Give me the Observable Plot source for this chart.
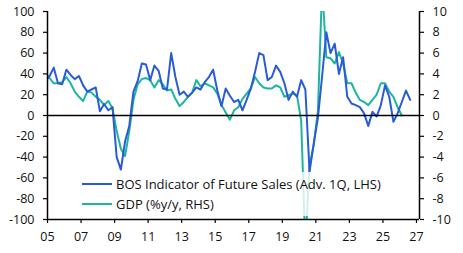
<!DOCTYPE html>
<html>
<head>
<meta charset="utf-8">
<script src="https://cdn.jsdelivr.net/npm/d3@7"></script>
<script src="https://cdn.jsdelivr.net/npm/@observablehq/plot@0.6"></script>
<style>
  html, body { margin: 0; padding: 0; background: #fff; }
  #wrap { position: relative; width: 463px; height: 253px; font-family: "Open Sans", sans-serif; }
  #legend {
    position: absolute; left: 78px; top: 172px; width: 310px; height: 44px;
    background: rgba(255,255,255,0.8);
  }
  .item { position: absolute; left: 4px; display: flex; align-items: center; font-size: 13px; color: #111; white-space: nowrap; }
  .swatch { width: 30px; height: 0; border-top: 2px solid; margin-right: 4px; }
</style>
</head>
<body>
<div id="wrap"></div>
<script>
// Quarterly series, first value is 2004 Q4
const firstYear = 2004;
const firstQuarter = 4;

// BOS indicator of future sales, balance of opinion (advanced one quarter, LHS)
const bosValues = [33, 38, 46, 31, 30, 44, 39, 35, 38, 29, 23, 25, 27, 4, 11, 5, 8,
  -40, -52, -25, -10, 23, 33, 50, 49, 34, 48, 43, 26, 25, 60, 37, 20, 23, 18, 22,
  27, 25, 32, 37, 44, 24, 9, 26, 19, 13, 15, 5, 15, 26, 42, 60, 58, 34, 37, 48,
  42, 31, 15, 23, 18, 34, 25, -54, -27, -2, 38, 80, 60, 69, 40, 56, 18, 11.5, 10,
  8, 2, -10, 3.5, -1, 10, 29, 18, -6, 2, 13, 24, 15];

// Real GDP, % y/y (RHS)
const gdpValues = [4.0, 3.6, 3.1, 3.1, 3.2, 3.7, 3.1, 2.3, 1.8, 1.4, 2.3, 2.2, 1.8,
  1.5, 1.0, 1.4, 0.7, -1.5, -3.2, -3.9, -1.5, 1.5, 3.0, 3.5, 3.6, 3.4, 2.7, 3.4,
  3.0, 2.4, 2.5, 1.6, 0.9, 1.3, 1.8, 2.2, 3.4, 2.8, 3.1, 2.9, 2.7, 2.1, 1.0, 0.3,
  -0.4, 0.5, 0.8, 1.6, 2.1, 2.6, 3.7, 3.1, 2.7, 2.6, 2.6, 2.9, 2.7, 1.8, 1.95,
  2.1, 1.95, -0.5, -12.6, -4.8, -2.8, 0.5, 12.5, 5.6, 5.5, 5.0, 6.1, 5.0, 3.1,
  3.1, 2.2, 1.5, 1.3, 1.0, 1.5, 2.0, 3.1, 3.1, 2.3, 1.8, 0.8, 0.0];

const seriesNames = ["BOS Indicator of Future Sales (Adv. 1Q, LHS)", "GDP (%y/y, RHS)"];
const colors = ["#2a5bd7", "#1db5a2"];

const leftTicks = d3.range(-100, 101, 20);
const rightTicks = d3.range(-10, 11, 2);
const yearTicks = d3.range(2005, 2028, 2);
const xDomain = [2005, 2027.18];

// decimal date at the middle of each quarter
const qDate = i => firstYear + (firstQuarter - 1) / 4 + i / 4 + 0.125;

const bos = bosValues.map((v, i) => ({date: qDate(i), value: v}));
// GDP is drawn on the left scale, ten units of balance per percentage point
const gdp = gdpValues.map((v, i) => ({date: qDate(i), value: v * 10}));

const chart = Plot.plot({
  width: 463,
  height: 253,
  marginLeft: 47,
  marginRight: 44,
  marginTop: 11,
  marginBottom: 34,
  style: {fontFamily: "Open Sans, sans-serif", fontSize: "12.5px", color: "#111", background: "#fff"},
  x: {domain: xDomain},
  y: {domain: [-100, 100]},
  marks: [
    Plot.line(gdp, {x: "date", y: "value", stroke: colors[1], strokeWidth: 2, clip: true}),
    Plot.line(bos, {x: "date", y: "value", stroke: colors[0], strokeWidth: 2, clip: true}),
    Plot.ruleY([0], {stroke: "#000", strokeWidth: 1.6}),
    Plot.ruleX([xDomain[0]], {stroke: "#000", strokeWidth: 1.5}),
    Plot.ruleX([xDomain[1]], {stroke: "#000", strokeWidth: 1.5}),
    Plot.ruleY([-100], {stroke: "#000", strokeWidth: 1.5}),
    Plot.axisY({anchor: "left", ticks: leftTicks, tickSize: 4, tickPadding: 9,
      tickFormat: d => String(d), label: null, stroke: "#000", strokeWidth: 1.2}),
    Plot.axisY({anchor: "right", ticks: rightTicks.map(d => d * 10), tickSize: 4, tickPadding: 9,
      tickFormat: d => String(d / 10), label: null, stroke: "#000", strokeWidth: 1.2}),
    Plot.axisX({ticks: yearTicks, tickSize: 4, tickPadding: 9,
      tickFormat: d => String(d % 100).padStart(2, "0"), label: null, stroke: "#000", strokeWidth: 1.2})
  ]
});

const wrap = document.getElementById("wrap");
wrap.appendChild(chart);

// legend box over the lower part of the plot
const legend = document.createElement("div");
legend.id = "legend";
seriesNames.forEach((name, k) => {
  const item = document.createElement("div");
  item.className = "item";
  item.style.top = (k === 0 ? 3 : 23) + "px";
  const sw = document.createElement("span");
  sw.className = "swatch";
  sw.style.borderColor = colors[k];
  item.appendChild(sw);
  item.appendChild(document.createTextNode(name));
  legend.appendChild(item);
});
wrap.appendChild(legend);
</script>
</body>
</html>
